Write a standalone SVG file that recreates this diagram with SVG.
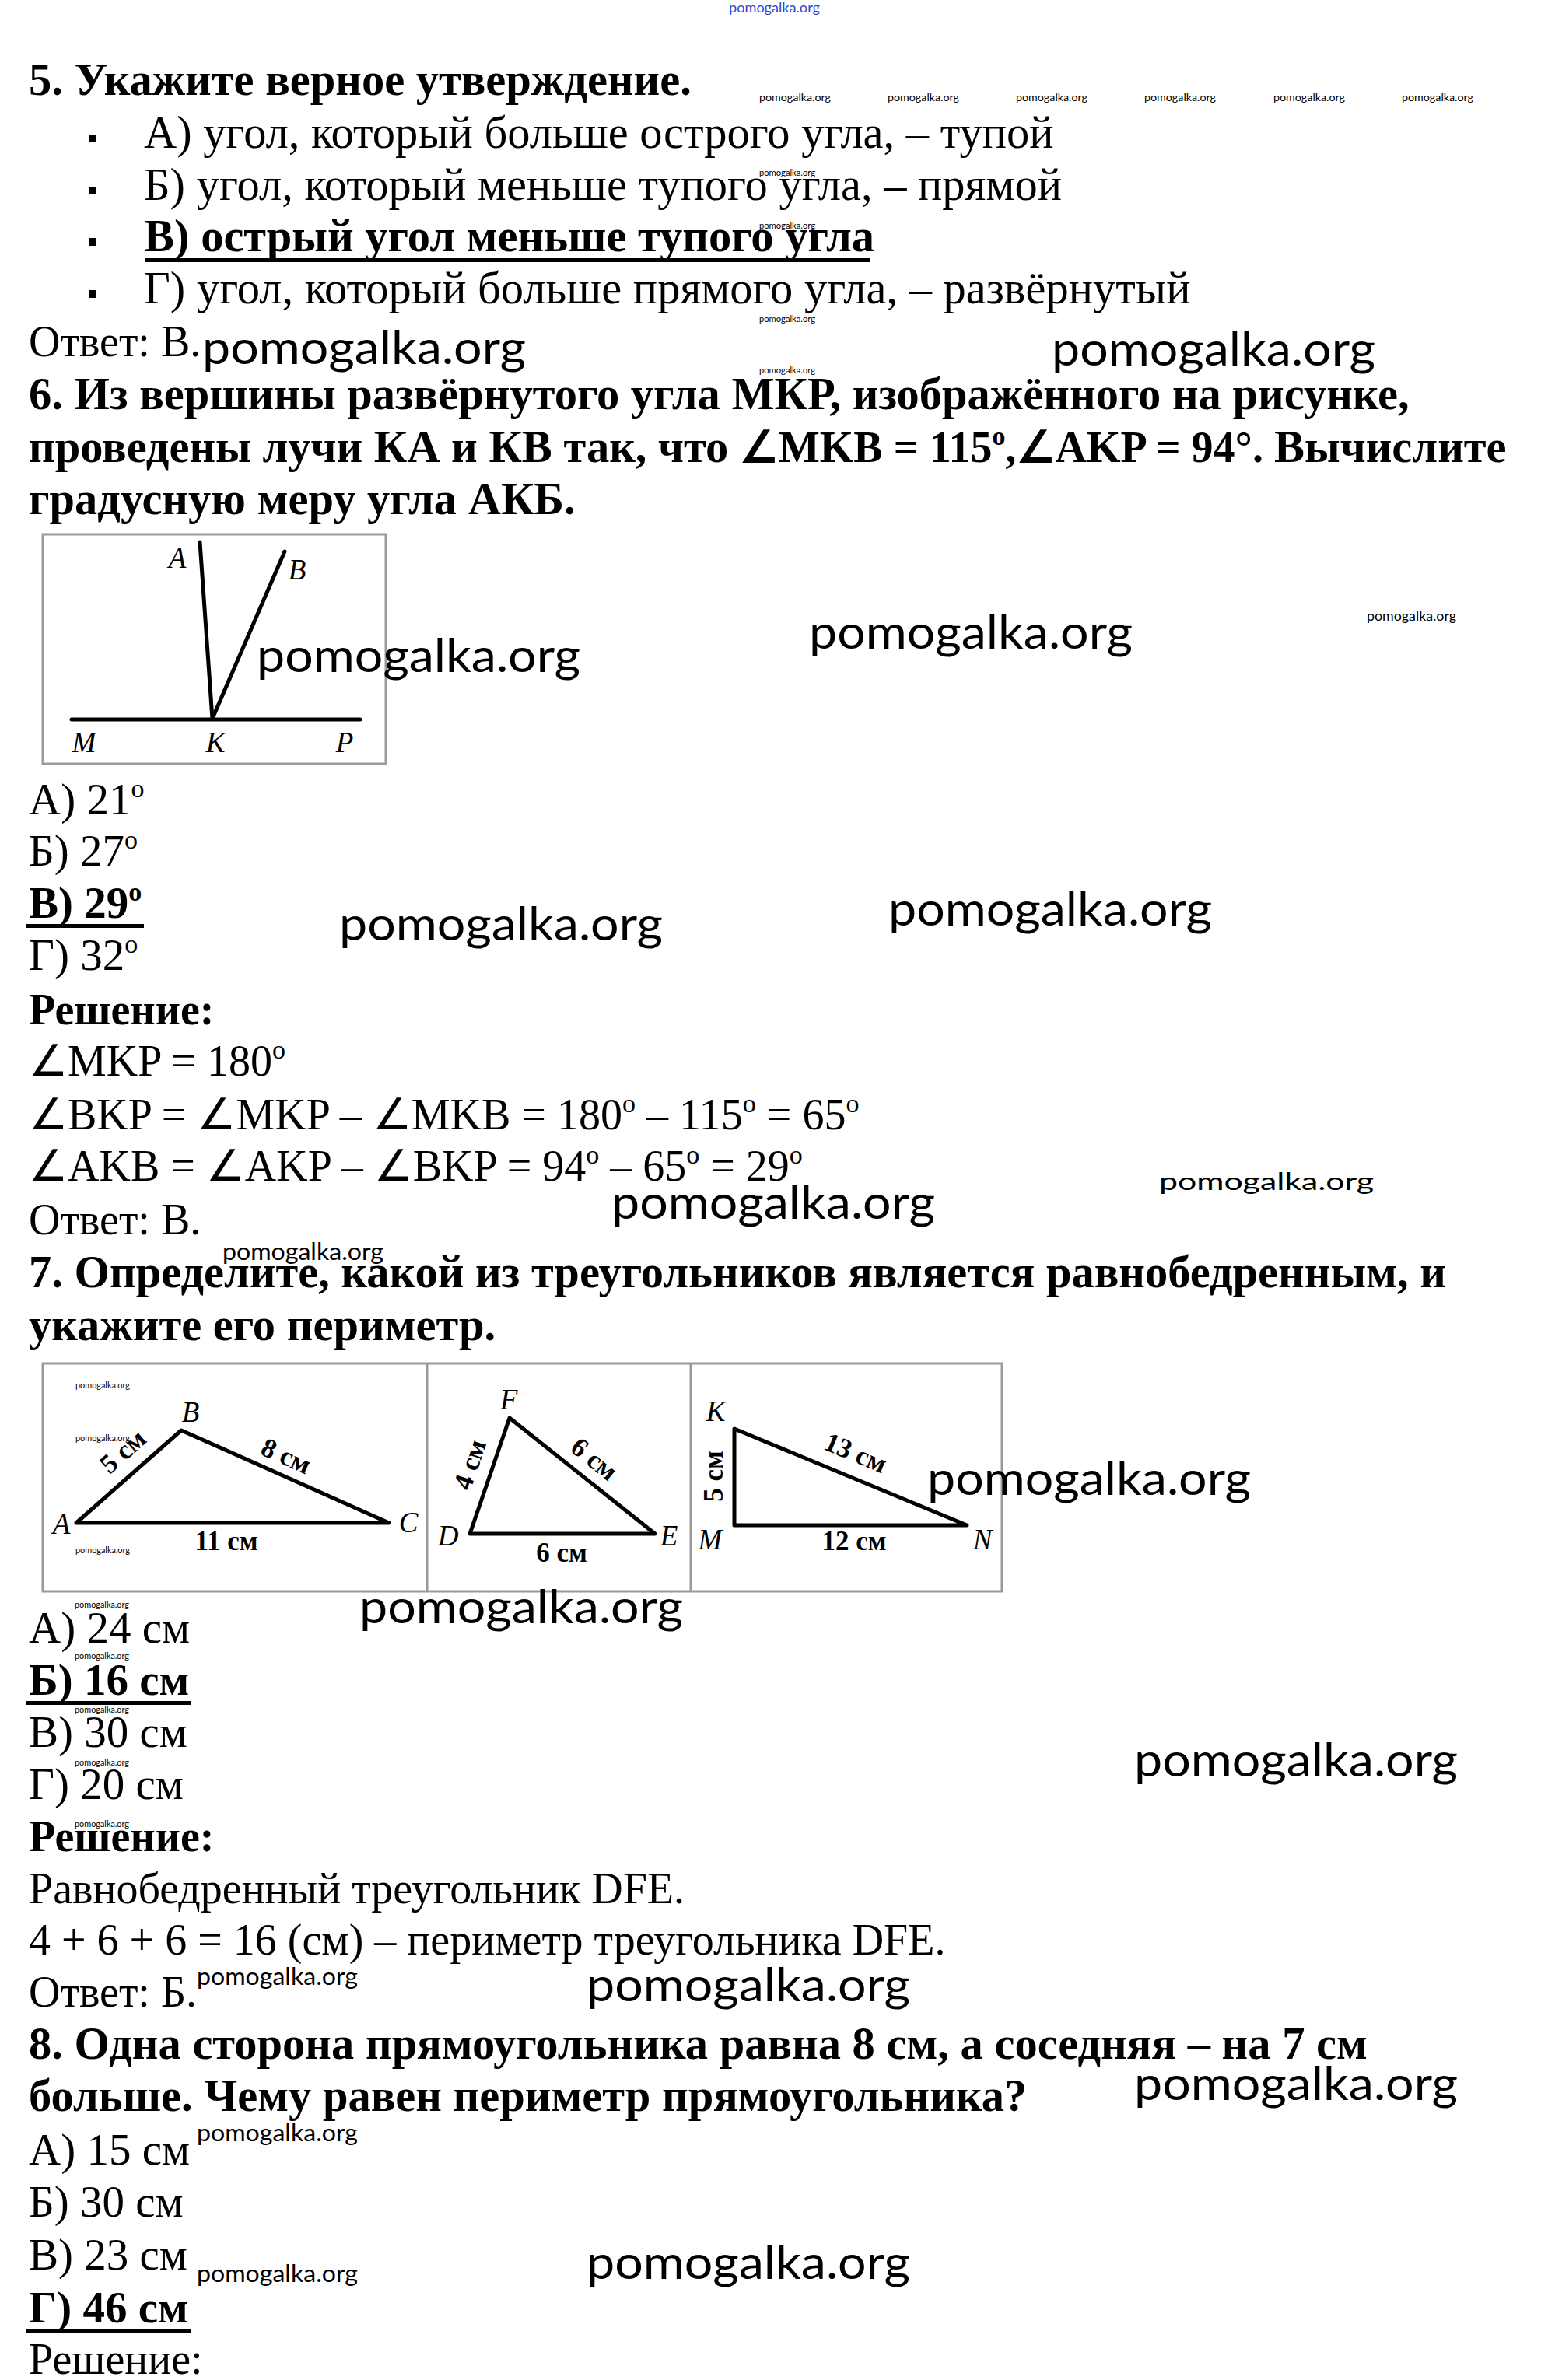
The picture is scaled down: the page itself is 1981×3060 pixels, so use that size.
<svg xmlns="http://www.w3.org/2000/svg" width="1981" height="3060" viewBox="0 0 1981 3060">
<style>
.t{font-family:"Liberation Serif","Times New Roman",serif;font-size:56px;fill:#000}
.c{font-size:58.5px}
.m{font-size:57px}
.b{font-weight:bold}
.wm{font-family:Lato,"Open Sans",sans-serif;fill:#000}
.big{font-size:60px}
.med{font-size:30px}
.sm{font-size:11px}
.lbl{font-family:"Liberation Serif","Times New Roman",serif;font-style:italic;font-size:37px;fill:#000;text-anchor:middle}
.side{font-family:"Liberation Serif","Times New Roman",serif;font-weight:bold;font-size:35px;fill:#000;text-anchor:middle}
.frame{fill:none;stroke:#9a9a9a;stroke-width:3}
.ln{stroke:#000;stroke-width:5;stroke-linecap:round;stroke-linejoin:round;fill:none}
.ul{fill:#000}
</style>
<rect width="1981" height="3060" fill="#fff"/>

<g id="q5">
<text class="t c b" x="37" y="122">5. Укажите верное утверждение.</text>
<rect x="114" y="173" width="10" height="10"/>
<text class="t c" x="185" y="190">А) угол, который больше острого угла, – тупой</text>
<rect x="114" y="240" width="10" height="10"/>
<text class="t c" x="185" y="257">Б) угол, который меньше тупого угла, – прямой</text>
<rect x="114" y="306" width="10" height="10"/>
<text class="t c b" x="185" y="323">В) острый угол меньше тупого угла</text>
<rect class="ul" x="186" y="332" width="932" height="5"/>
<rect x="114" y="373" width="10" height="10"/>
<text class="t c" x="185" y="390">Г) угол, который больше прямого угла, – развёрнутый</text>
<text class="t" x="37" y="458">Ответ: В.</text>
</g>

<g id="q6">
<text class="t c b" x="37" y="526">6. Из вершины развёрнутого угла МКР, изображённого на рисунке,</text>
<text class="t b" x="37" y="594"><tspan font-size="58.5">проведены лучи КА и КВ так, что </tspan>∠MKB = 115<tspan dy="-22" font-size="34">o</tspan><tspan dy="22">,∠AKP = 94°. </tspan><tspan font-size="58.5">Вычислите</tspan></text>
<text class="t c b" x="37" y="661">градусную меру угла АКБ.</text>
</g>

<g id="figure-mkp">
<rect class="frame" x="55" y="687" width="441" height="295"/>
<line class="ln" x1="92" y1="925" x2="463" y2="925"/>
<line class="ln" x1="273" y1="924" x2="257" y2="697"/>
<line class="ln" x1="273" y1="924" x2="366" y2="709"/>
<text class="lbl" x="228" y="730">A</text>
<text class="lbl" x="382" y="745">B</text>
<text class="lbl" x="108" y="967">M</text>
<text class="lbl" x="277" y="967">K</text>
<text class="lbl" x="443" y="967">P</text>
</g>

<g id="q6-answers">
<text class="t m" x="37" y="1047">А) 21<tspan dy="-22" font-size="34">o</tspan></text>
<text class="t m" x="37" y="1113">Б) 27<tspan dy="-22" font-size="34">o</tspan></text>
<text class="t m b" x="37" y="1180">В) 29<tspan dy="-22" font-size="34">o</tspan></text>
<rect class="ul" x="34" y="1188" width="151" height="5"/>
<text class="t m" x="37" y="1247">Г) 32<tspan dy="-22" font-size="34">o</tspan></text>
<text class="t b" x="37" y="1317" font-size="58">Решение:</text>
<text class="t" x="37" y="1383">∠MKP = 180<tspan dy="-22" font-size="34">o</tspan></text>
<text class="t" x="37" y="1452">∠BKP = ∠MKP – ∠MKB = 180<tspan dy="-22" font-size="34">o</tspan><tspan dy="22"> – 115</tspan><tspan dy="-22" font-size="34">o</tspan><tspan dy="22"> = 65</tspan><tspan dy="-22" font-size="34">o</tspan></text>
<text class="t" x="37" y="1518">∠AKB = ∠AKP – ∠BKP = 94<tspan dy="-22" font-size="34">o</tspan><tspan dy="22"> – 65</tspan><tspan dy="-22" font-size="34">o</tspan><tspan dy="22"> = 29</tspan><tspan dy="-22" font-size="34">o</tspan></text>
<text class="t" x="37" y="1587">Ответ: В.</text>
</g>

<g id="q7">
<text class="t c b" x="37" y="1655">7. Определите, какой из треугольников является равнобедренным, и</text>
<text class="t c b" x="37" y="1723">укажите его периметр.</text>
</g>

<g id="triangles">
<rect class="frame" x="55" y="1753" width="1233" height="293"/>
<line class="frame" x1="549" y1="1753" x2="549" y2="2046"/>
<line class="frame" x1="888" y1="1753" x2="888" y2="2046"/>
<g id="tri-abc">
<polygon class="ln" points="98,1958 233,1839 500,1958"/>
<text class="lbl" x="245" y="1828">B</text>
<text class="lbl" x="79" y="1972">A</text>
<text class="lbl" x="525" y="1970">C</text>
<text class="side" transform="translate(158,1866) rotate(-41.4)" dominant-baseline="central">5 см</text>
<text class="side" transform="translate(368,1872) rotate(24)" dominant-baseline="central">8 см</text>
<text class="side" x="291" y="1993">11 см</text>
</g>
<g id="tri-dfe">
<polygon class="ln" points="604,1972 655,1823 842,1972"/>
<text class="lbl" x="654" y="1812">F</text>
<text class="lbl" x="576" y="1987">D</text>
<text class="lbl" x="860" y="1987">E</text>
<text class="side" transform="translate(604,1883) rotate(-71.1)" dominant-baseline="central">4 см</text>
<text class="side" transform="translate(764,1876) rotate(38.5)" dominant-baseline="central">6 см</text>
<text class="side" x="722" y="2008">6 см</text>
</g>
<g id="tri-kmn">
<polygon class="ln" points="944,1837 944,1961 1243,1961"/>
<text class="lbl" x="920" y="1827">K</text>
<text class="lbl" x="913" y="1992">M</text>
<text class="lbl" x="1263" y="1992">N</text>
<text class="side" transform="translate(917,1898) rotate(-90)" dominant-baseline="central">5 см</text>
<text class="side" transform="translate(1100,1868) rotate(22.5)" dominant-baseline="central">13 см</text>
<text class="side" x="1098" y="1993">12 см</text>
</g>
</g>

<g id="q7-answers">
<text class="t m" x="37" y="2112">А) 24 см</text>
<text class="t m b" x="37" y="2179">Б) 16 см</text>
<rect class="ul" x="34" y="2187" width="212" height="5"/>
<text class="t m" x="37" y="2246">В) 30 см</text>
<text class="t m" x="37" y="2313">Г) 20 см</text>
<text class="t b" x="37" y="2380" font-size="58">Решение:</text>
<text class="t" x="37" y="2447" font-size="58.3">Равнобедренный треугольник DFE.</text>
<text class="t" x="37" y="2513" font-size="58.3">4 + 6 + 6 = 16 (см) – периметр треугольника DFE.</text>
<text class="t" x="37" y="2580">Ответ: Б.</text>
</g>

<g id="q8">
<text class="t c b" x="37" y="2647">8. Одна сторона прямоугольника равна 8 см, а соседняя – на 7 см</text>
<text class="t c b" x="37" y="2714">больше. Чему равен периметр прямоугольника?</text>
<text class="t m" x="37" y="2783">А) 15 см</text>
<text class="t m" x="37" y="2850">Б) 30 см</text>
<text class="t m" x="37" y="2918">В) 23 см</text>
<text class="t m b" x="37" y="2986">Г) 46 см</text>
<rect class="ul" x="34" y="2994" width="212" height="5"/>
<text class="t" x="37" y="3052" font-size="57.5">Решение:</text>
</g>

<g id="watermarks">
<text class="wm" x="937" y="16" font-size="18" style="fill:#3344cc" textLength="117" lengthAdjust="spacingAndGlyphs">pomogalka.org</text>
<text class="wm" x="976" y="130" font-size="14" textLength="92" lengthAdjust="spacingAndGlyphs">pomogalka.org</text>
<text class="wm" x="1141" y="130" font-size="14" textLength="92" lengthAdjust="spacingAndGlyphs">pomogalka.org</text>
<text class="wm" x="1306" y="130" font-size="14" textLength="92" lengthAdjust="spacingAndGlyphs">pomogalka.org</text>
<text class="wm" x="1471" y="130" font-size="14" textLength="92" lengthAdjust="spacingAndGlyphs">pomogalka.org</text>
<text class="wm" x="1637" y="130" font-size="14" textLength="92" lengthAdjust="spacingAndGlyphs">pomogalka.org</text>
<text class="wm" x="1802" y="130" font-size="14" textLength="92" lengthAdjust="spacingAndGlyphs">pomogalka.org</text>
<text class="wm sm" x="976" y="226" textLength="72" lengthAdjust="spacingAndGlyphs">pomogalka.org</text>
<text class="wm sm" x="976" y="294" textLength="72" lengthAdjust="spacingAndGlyphs">pomogalka.org</text>
<text class="wm sm" x="976" y="414" textLength="72" lengthAdjust="spacingAndGlyphs">pomogalka.org</text>
<text class="wm sm" x="976" y="480" textLength="72" lengthAdjust="spacingAndGlyphs">pomogalka.org</text>
<text class="wm" x="1757" y="798" font-size="17" textLength="115" lengthAdjust="spacingAndGlyphs">pomogalka.org</text>
<text class="wm sm" x="97" y="1785" textLength="70" lengthAdjust="spacingAndGlyphs">pomogalka.org</text>
<text class="wm sm" x="97" y="1853" textLength="70" lengthAdjust="spacingAndGlyphs">pomogalka.org</text>
<text class="wm sm" x="97" y="1997" textLength="70" lengthAdjust="spacingAndGlyphs">pomogalka.org</text>
<text class="wm sm" x="96" y="2067" textLength="70" lengthAdjust="spacingAndGlyphs">pomogalka.org</text>
<text class="wm sm" x="96" y="2133" textLength="70" lengthAdjust="spacingAndGlyphs">pomogalka.org</text>
<text class="wm sm" x="96" y="2202" textLength="70" lengthAdjust="spacingAndGlyphs">pomogalka.org</text>
<text class="wm sm" x="96" y="2270" textLength="70" lengthAdjust="spacingAndGlyphs">pomogalka.org</text>
<text class="wm sm" x="96" y="2349" textLength="70" lengthAdjust="spacingAndGlyphs">pomogalka.org</text>
<text class="wm med" x="286" y="1620" textLength="207" lengthAdjust="spacingAndGlyphs">pomogalka.org</text>
<text class="wm med" x="1490" y="1530" font-size="40" textLength="276" lengthAdjust="spacingAndGlyphs">pomogalka.org</text>
<text class="wm med" x="253" y="2552" textLength="207" lengthAdjust="spacingAndGlyphs">pomogalka.org</text>
<text class="wm med" x="253" y="2753" textLength="207" lengthAdjust="spacingAndGlyphs">pomogalka.org</text>
<text class="wm med" x="253" y="2934" textLength="207" lengthAdjust="spacingAndGlyphs">pomogalka.org</text>
<text class="wm big" x="260" y="468" textLength="416" lengthAdjust="spacingAndGlyphs">pomogalka.org</text>
<text class="wm big" x="1352" y="470" textLength="416" lengthAdjust="spacingAndGlyphs">pomogalka.org</text>
<text class="wm big" x="330" y="864" textLength="416" lengthAdjust="spacingAndGlyphs">pomogalka.org</text>
<text class="wm big" x="1040" y="834" textLength="416" lengthAdjust="spacingAndGlyphs">pomogalka.org</text>
<text class="wm big" x="436" y="1209" textLength="416" lengthAdjust="spacingAndGlyphs">pomogalka.org</text>
<text class="wm big" x="1142" y="1190" textLength="416" lengthAdjust="spacingAndGlyphs">pomogalka.org</text>
<text class="wm big" x="786" y="1567" textLength="416" lengthAdjust="spacingAndGlyphs">pomogalka.org</text>
<text class="wm big" x="1192" y="1922" textLength="416" lengthAdjust="spacingAndGlyphs">pomogalka.org</text>
<text class="wm big" x="462" y="2087" textLength="416" lengthAdjust="spacingAndGlyphs">pomogalka.org</text>
<text class="wm big" x="1458" y="2284" textLength="416" lengthAdjust="spacingAndGlyphs">pomogalka.org</text>
<text class="wm big" x="754" y="2573" textLength="416" lengthAdjust="spacingAndGlyphs">pomogalka.org</text>
<text class="wm big" x="1458" y="2700" textLength="416" lengthAdjust="spacingAndGlyphs">pomogalka.org</text>
<text class="wm big" x="754" y="2930" textLength="416" lengthAdjust="spacingAndGlyphs">pomogalka.org</text>
</g>
</svg>
